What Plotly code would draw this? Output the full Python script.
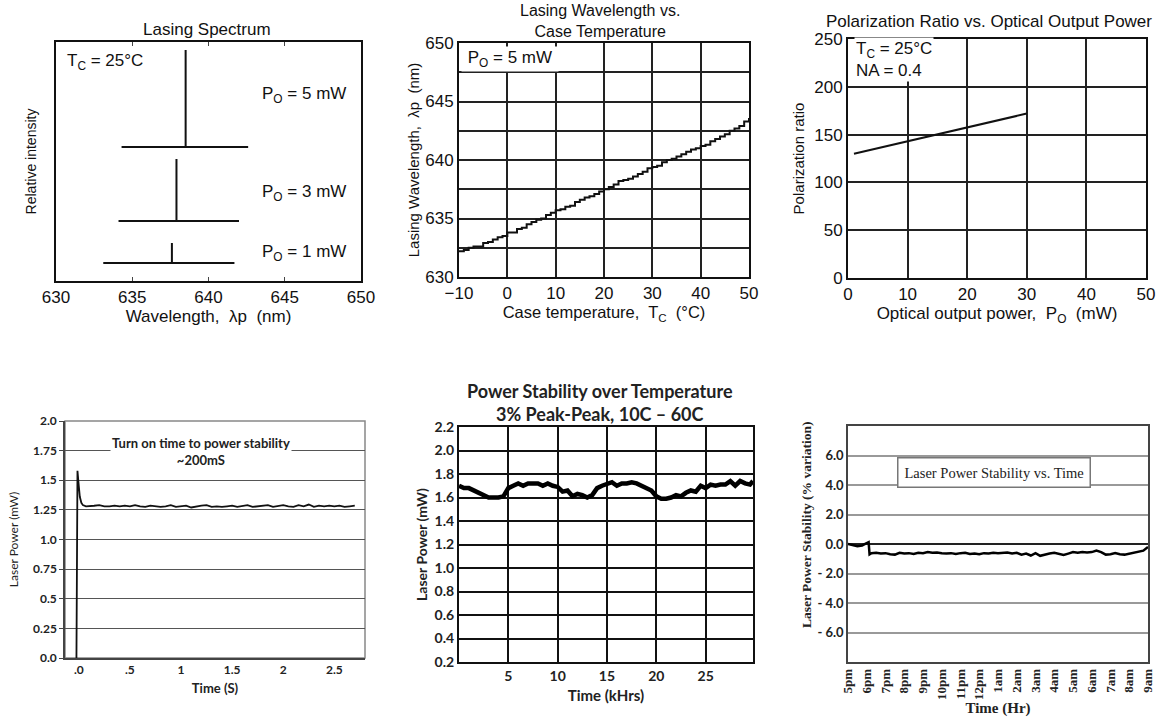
import plotly.graph_objects as go

W, H = 1163, 717

# ---------------- Panel 1: Lasing Spectrum ----------------
spec_power = ["5", "3", "1"]
spec_peak_nm = [638.5, 637.9, 637.6]
spec_left_nm = [634.3, 634.1, 633.1]
spec_right_nm = [642.6, 642.0, 641.7]
spec_base = [0.561, 0.251, 0.075]
spec_top = [0.967, 0.510, 0.159]
spec_label_y = [0.778, 0.368, 0.117]

# ---------------- Panel 2: Lasing wavelength vs case temperature ----------------
case_temp = [-10, -9, -8, -7, -6, -5, -4, -3, -2, -1, 0, 1, 2, 3, 4, 5, 6, 7, 8, 9, 10,
             11, 12, 13, 14, 15, 16, 17, 18, 19, 20, 21, 22, 23, 24, 25, 26, 27, 28, 29, 30,
             31, 32, 33, 34, 35, 36, 37, 38, 39, 40, 41, 42, 43, 44, 45, 46, 47, 48, 49, 50]
lasing_nm = [632.2, 632.3, 632.5, 632.6, 632.6, 632.9, 633.0, 633.2, 633.4, 633.5, 633.8,
             633.8, 634.1, 634.2, 634.5, 634.7, 634.9, 635.0, 635.3, 635.5, 635.7,
             635.8, 636.0, 636.1, 636.4, 636.6, 636.8, 636.9, 637.1, 637.3, 637.5,
             637.7, 637.9, 638.2, 638.3, 638.4, 638.6, 638.8, 639.0, 639.3, 639.4,
             639.5, 639.8, 640.0, 640.1, 640.3, 640.5, 640.7, 640.9, 641.0, 641.2,
             641.3, 641.6, 641.8, 642.0, 642.2, 642.5, 642.7, 642.9, 643.3, 643.6]

# ---------------- Panel 3: Polarization ratio ----------------
pol_power = [1, 30]
pol_ratio = [130, 172]

# ---------------- Panel 4: Turn on time ----------------
turn_t = [-0.023, -0.013, 0.0, 0.01, 0.025, 0.04, 0.07, 0.10, 0.15, 0.20, 0.25, 0.30, 0.35,
          0.40, 0.45, 0.50, 0.55, 0.60, 0.65, 0.70, 0.75, 0.80, 0.85, 0.90, 0.95, 1.00,
          1.05, 1.10, 1.15, 1.20, 1.25, 1.30, 1.35, 1.40, 1.45, 1.50, 1.55, 1.60, 1.65,
          1.70, 1.75, 1.80, 1.85, 1.90, 1.95, 2.00, 2.05, 2.10, 2.15, 2.20, 2.25, 2.30,
          2.35, 2.40, 2.45, 2.50, 2.55, 2.60, 2.65, 2.70]
turn_p = [0.0, 1.58, 1.45, 1.36, 1.31, 1.29, 1.28, 1.28, 1.285, 1.29, 1.28, 1.28, 1.285,
          1.28, 1.285, 1.28, 1.29, 1.28, 1.275, 1.285, 1.28, 1.275, 1.28, 1.29, 1.275,
          1.28, 1.285, 1.27, 1.28, 1.285, 1.29, 1.275, 1.28, 1.275, 1.28, 1.285, 1.275,
          1.28, 1.29, 1.275, 1.28, 1.285, 1.29, 1.275, 1.285, 1.29, 1.28, 1.275, 1.29,
          1.28, 1.295, 1.275, 1.285, 1.28, 1.285, 1.28, 1.285, 1.275, 1.28, 1.285]
turn_tickvals = [0, 0.5, 1, 1.5, 2, 2.5]
turn_ticktext = [".0", ".5", "1", "1.5", "2", "2.5"]
turn_yvals = [0, 0.25, 0.5, 0.75, 1.0, 1.25, 1.5, 1.75, 2.0]
turn_ytext = ["0.0", "0.25", "0.5", "0.75", "1.0", "1.25", "1.5", "1.75", "2.0"]

# ---------------- Panel 5: Power stability over temperature ----------------
stab_khrs = [0, 0.5, 1, 1.5, 2, 2.5, 3, 3.5, 4, 4.5, 5, 5.5, 6, 6.5, 7, 7.5, 8, 8.5, 9, 9.5,
             10, 10.5, 11, 11.5, 12, 12.5, 13, 13.5, 14, 14.5, 15, 15.5, 16, 16.5, 17, 17.5,
             18, 18.5, 19, 19.5, 20, 20.5, 21, 21.5, 22, 22.5, 23, 23.5, 24, 24.5, 25, 25.5,
             26, 26.5, 27, 27.5, 28, 28.5, 29, 29.5, 29.8]
stab_mw = [1.70, 1.68, 1.68, 1.66, 1.64, 1.61, 1.60, 1.60, 1.60, 1.61, 1.68, 1.70, 1.72,
           1.70, 1.72, 1.72, 1.72, 1.70, 1.72, 1.70, 1.69, 1.65, 1.66, 1.61, 1.63, 1.62,
           1.60, 1.62, 1.68, 1.70, 1.72, 1.73, 1.70, 1.72, 1.72, 1.73, 1.72, 1.70, 1.68,
           1.66, 1.61, 1.59, 1.59, 1.60, 1.62, 1.61, 1.64, 1.66, 1.65, 1.70, 1.68, 1.71,
           1.70, 1.71, 1.71, 1.74, 1.70, 1.74, 1.72, 1.71, 1.74]

# ---------------- Panel 6: Laser power stability vs time ----------------
hr_labels = ["5pm", "6pm", "7pm", "8pm", "9pm", "10pm", "11pm", "12pm", "1am", "2am",
             "3am", "4am", "5am", "6am", "7am", "8am", "9am"]
hr_t = [0, 0.25, 0.5, 0.75, 1.0, 1.1, 1.15, 1.25, 1.5, 1.75, 2.0, 2.25, 2.5, 2.75, 3.0,
        3.25, 3.5, 3.75, 4.0, 4.25, 4.5, 4.75, 5.0, 5.25, 5.5, 5.75, 6.0, 6.25, 6.5, 6.75,
        7.0, 7.25, 7.5, 7.75, 8.0, 8.25, 8.5, 8.75, 9.0, 9.25, 9.5, 9.75, 10.0, 10.25,
        10.5, 10.75, 11.0, 11.25, 11.5, 11.75, 12.0, 12.25, 12.5, 12.75, 13.0, 13.25,
        13.5, 13.75, 14.0, 14.25, 14.5, 14.75, 15.0, 15.25, 15.5, 15.75, 16.0]
hr_pct = [0.0, -0.05, -0.15, -0.1, 0.05, 0.12, -0.7, -0.62, -0.6, -0.65, -0.62, -0.7,
          -0.72, -0.6, -0.65, -0.62, -0.68, -0.6, -0.62, -0.55, -0.6, -0.58, -0.62, -0.65,
          -0.62, -0.68, -0.62, -0.6, -0.68, -0.65, -0.7, -0.62, -0.65, -0.6, -0.62, -0.6,
          -0.58, -0.65, -0.6, -0.72, -0.65, -0.78, -0.62, -0.8, -0.7, -0.65, -0.6, -0.7,
          -0.75, -0.65, -0.55, -0.6, -0.55, -0.58, -0.55, -0.45, -0.55, -0.72, -0.7,
          -0.62, -0.7, -0.72, -0.65, -0.6, -0.55, -0.45, -0.2]
pct_vals = [-6, -4, -2, 0, 2, 4, 6]
pct_text = ["- 6.0", "- 4.0", "- 2.0", "0.0", "2.0", "4.0", "6.0"]


def dom_x(a, b):
    return [a / W, b / W]


def dom_y(top, bottom):
    return [1 - bottom / H, 1 - top / H]


SANS = "Liberation Sans"
CAL = "Lato"
SERIF = "Liberation Serif"

fig = go.Figure()

for i in range(len(spec_power)):
    fig.add_trace(go.Scatter(
        x=[spec_left_nm[i], spec_peak_nm[i], spec_peak_nm[i], spec_peak_nm[i], spec_right_nm[i]],
        y=[spec_base[i], spec_base[i], spec_top[i], spec_base[i], spec_base[i]],
        mode="lines", line=dict(color="#111", width=2), xaxis="x", yaxis="y",
        showlegend=False, hoverinfo="skip"))

fig.add_trace(go.Scatter(x=case_temp, y=lasing_nm, mode="lines", line_shape="hv",
                         line=dict(color="#111", width=2), xaxis="x2", yaxis="y2",
                         showlegend=False))
fig.add_trace(go.Scatter(x=pol_power, y=pol_ratio, mode="lines",
                         line=dict(color="#111", width=2), xaxis="x3", yaxis="y3",
                         showlegend=False))
fig.add_trace(go.Scatter(x=turn_t, y=turn_p, mode="lines",
                         line=dict(color="#111", width=1.8), xaxis="x4", yaxis="y4",
                         showlegend=False))
fig.add_trace(go.Scatter(x=stab_khrs, y=stab_mw, mode="lines",
                         line=dict(color="#000", width=4.5), xaxis="x5", yaxis="y5",
                         showlegend=False))
fig.add_trace(go.Scatter(x=hr_t, y=hr_pct, mode="lines",
                         line=dict(color="#000", width=2.5), xaxis="x6", yaxis="y6",
                         showlegend=False))

top_tick = dict(family=SANS, size=17, color="#111")
top_title = dict(family=SANS, size=17, color="#111")
top_text = dict(family=SANS, size=17, color="#111")

layout = dict(
    width=W, height=H, margin=dict(l=0, r=0, t=0, b=0, autoexpand=False),
    paper_bgcolor="white", plot_bgcolor="white", showlegend=False,
    # Panel 1
    xaxis=dict(domain=dom_x(56, 361), anchor="y", range=[630, 650], automargin=False,
               tickvals=[630, 635, 640, 645, 650], ticks="inside", ticklen=4,
               showline=True, mirror="ticks", linecolor="#111", linewidth=2,
               showgrid=False, zeroline=False, tickfont=top_tick,
               title=dict(text="Wavelength,  λp  (nm)", font=top_title, standoff=0)),
    yaxis=dict(domain=dom_y(42, 281), anchor="x", range=[0, 1], showticklabels=False,
               automargin=False,
               showline=True, mirror=True, linecolor="#111", linewidth=2,
               showgrid=False, zeroline=False,
               title=dict(text="Relative intensity", font=dict(family=SANS, size=14, color="#111"), standoff=14)),
    # Panel 2
    xaxis2=dict(domain=dom_x(459, 749), anchor="y2", range=[-10, 50], dtick=10,
                automargin=False,
                showline=True, mirror=True, linecolor="#111", linewidth=2,
                showgrid=True, gridcolor="#222", gridwidth=1.5, zeroline=False,
                tickfont=top_tick, ticks="",
                title=dict(text="Case temperature,  T<sub>C</sub>  (°C)",
                           font=dict(family=SANS, size=16.5, color="#111"), standoff=0)),
    yaxis2=dict(domain=dom_y(43, 277), anchor="x2", range=[630, 650], dtick=5,
                automargin=False,
                showline=True, mirror=True, linecolor="#111", linewidth=2,
                showgrid=True, gridcolor="#222", gridwidth=1.5, zeroline=False,
                minor=dict(dtick=2.5, showgrid=True, gridcolor="#222", gridwidth=1.5),
                tickfont=top_tick,
                title=dict(text="Lasing Wavelength,  λp  (nm)",
                           font=dict(family=SANS, size=15, color="#111"), standoff=2)),
    # Panel 3
    xaxis3=dict(domain=dom_x(848, 1146), anchor="y3", range=[0, 50], dtick=10,
                automargin=False,
                showline=True, mirror=True, linecolor="#111", linewidth=2,
                showgrid=True, gridcolor="#222", gridwidth=1.5, zeroline=False,
                tickfont=top_tick,
                title=dict(text="Optical output power,  P<sub>O</sub>  (mW)", font=top_title, standoff=2)),
    yaxis3=dict(domain=dom_y(39, 278), anchor="x3", range=[0, 250], dtick=50,
                automargin=False,
                showline=True, mirror=True, linecolor="#111", linewidth=2,
                showgrid=True, gridcolor="#222", gridwidth=1.5, zeroline=False,
                tickfont=top_tick,
                title=dict(text="Polarization ratio", font=dict(family=SANS, size=15, color="#111"), standoff=6)),
    # Panel 4
    xaxis4=dict(domain=dom_x(65, 365), anchor="y4", range=[-0.135, 2.8], automargin=False,
                tickvals=turn_tickvals, ticktext=turn_ticktext,
                showline=True, linecolor="#444", linewidth=1.5, showgrid=False,
                zeroline=False, ticks="",
                tickfont=dict(family=CAL, size=12, color="#222", weight="bold"),
                title=dict(text="Time (S)", font=dict(family=CAL, size=13, color="#222", weight="bold"), standoff=8)),
    yaxis4=dict(domain=dom_y(421, 658), anchor="x4", range=[0, 2.0], automargin=False,
                tickvals=turn_yvals, ticktext=turn_ytext,
                showline=True, linecolor="#444", linewidth=1.5, ticks="outside",
                ticklen=4, tickcolor="#444",
                showgrid=True, gridcolor="#555", gridwidth=1, zeroline=False,
                tickfont=dict(family=CAL, size=12, color="#222", weight="bold"),
                title=dict(text="Laser Power (mW)", font=dict(family=CAL, size=12, color="#222"), standoff=12)),
    # Panel 5
    xaxis5=dict(domain=dom_x(459, 753), anchor="y5", range=[0, 29.8], automargin=False,
                tickvals=[5, 10, 15, 20, 25],
                showline=True, mirror=True, linecolor="#111", linewidth=2,
                showgrid=True, gridcolor="#111", gridwidth=1.5, zeroline=False, ticks="",
                tickfont=dict(family=CAL, size=14, color="#222", weight="bold"),
                title=dict(text="Time (kHrs)", font=dict(family=CAL, size=15, color="#222", weight="bold"), standoff=8)),
    yaxis5=dict(domain=dom_y(427, 662), anchor="x5", range=[0.2, 2.2], dtick=0.2,
                tickformat=".1f", automargin=False,
                showline=True, mirror=True, linecolor="#111", linewidth=2,
                showgrid=True, gridcolor="#111", gridwidth=1.5, zeroline=False, ticks="",
                tickfont=dict(family=CAL, size=14, color="#222", weight="bold"),
                title=dict(text="Laser Power (mW)", font=dict(family=CAL, size=14, color="#222", weight="bold"), standoff=4)),
    # Panel 6
    xaxis6=dict(domain=dom_x(848, 1148), anchor="y6", range=[0, 16], automargin=False,
                tickvals=list(range(len(hr_labels))), ticktext=hr_labels, tickangle=-90,
                showline=True, mirror=True, linecolor="#444", linewidth=1.5,
                showgrid=False, zeroline=False, ticks="",
                tickfont=dict(family=SERIF, size=13, color="#222", weight="bold"),
                title=dict(text="Time (Hr)", font=dict(family=SERIF, size=15, color="#222", weight="bold"), standoff=4)),
    yaxis6=dict(domain=dom_y(426, 662), anchor="x6", range=[-8, 8], automargin=False,
                tickvals=pct_vals, ticktext=pct_text,
                showline=True, mirror=True, linecolor="#444", linewidth=1.5,
                showgrid=True, gridcolor="#999", gridwidth=1.5,
                zeroline=True, zerolinecolor="#222", zerolinewidth=1.5, ticks="",
                tickfont=dict(family=CAL, size=13, color="#222", weight="bold")),
)
fig.update_layout(**layout)

ann = []
def ptitle(text, xc, yc, font, angle=0):
    ann.append(dict(text=text, x=xc / W, y=1 - yc / H, xref="paper", yref="paper",
                    xanchor="center", yanchor="middle", showarrow=False, font=font,
                    textangle=angle))

ptitle("Lasing Spectrum", 207, 29, dict(family=SANS, size=17, color="#111"))
ptitle("Lasing Wavelength vs.<br>Case Temperature", 600, 21, dict(family=SANS, size=16, color="#111"))
ptitle("Polarization Ratio vs. Optical Output Power", 989, 21, dict(family=SANS, size=17, color="#111"))
ptitle("Power Stability over Temperature<br>3% Peak-Peak, 10C – 60C", 600, 402,
       dict(family=CAL, size=18, color="#222", weight="bold"))
ptitle("Laser Power Stability (% variation)", 806, 525,
       dict(family=SERIF, size=13.5, color="#222", weight="bold"), angle=-90)

ann.append(dict(text="T<sub>C</sub> = 25°C", x=630.6, y=0.916, xref="x", yref="y",
                xanchor="left", yanchor="middle", showarrow=False, font=top_text))
for i in range(len(spec_power)):
    ann.append(dict(text="P<sub>O</sub> = " + spec_power[i] + " mW", x=643.4, y=spec_label_y[i],
                    xref="x", yref="y", xanchor="left", yanchor="middle", showarrow=False,
                    font=top_text))
ann.append(dict(text=" P<sub>O</sub> = 5 mW ", x=-9.6, y=648.6, xref="x2", yref="y2",
                xanchor="left", yanchor="middle", showarrow=False, bgcolor="white",
                font=top_text))
ann.append(dict(text="T<sub>C</sub> = 25°C<br>NA = 0.4", x=1.0, y=229, xref="x3", yref="y3",
                xanchor="left", yanchor="middle", align="left", showarrow=False, bgcolor="white",
                font=top_text))
ann.append(dict(text="Turn on time to power stability<br>~200mS", x=1.2, y=1.745,
                xref="x4", yref="y4", xanchor="center", yanchor="middle", showarrow=False,
                bgcolor="white", font=dict(family=CAL, size=13, color="#222", weight="bold")))
ann.append(dict(text="Laser Power Stability vs. Time", x=7.8, y=4.85, xref="x6", yref="y6",
                xanchor="center", yanchor="middle",
                showarrow=False, bgcolor="white", bordercolor="#777", borderwidth=1.5,
                borderpad=6, font=dict(family=SERIF, size=14.5, color="#222")))
fig.update_layout(annotations=ann)

fig.add_shape(type="rect", xref="x4 domain", yref="y4 domain", x0=0, x1=1, y0=0, y1=1,
              line=dict(color="#888", width=1.5), layer="below")

fig.write_html("out.html", config={"displayModeBar": False},
               post_script="document.body.style.margin='0px';document.body.style.overflow='hidden';")
